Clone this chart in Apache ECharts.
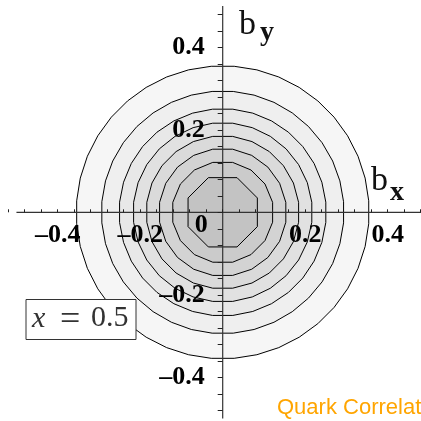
<!DOCTYPE html>
<html>
<head>
<meta charset="utf-8">
<script src="https://cdn.jsdelivr.net/npm/echarts@6/dist/echarts.min.js"></script>
<style>
  html, body { margin: 0; padding: 0; background: #ffffff; }
  #chart { width: 421px; height: 421px; }
</style>
</head>
<body>
<div id="chart"></div>
<script>
// Contour levels of the impact-parameter density at x = 0.5,
// listed from the outermost level inwards (radius where each contour crosses an axis).
const contourRadii = [0.354, 0.293, 0.250, 0.216, 0.184, 0.153, 0.121, 0.084];
// Grey fill of the region enclosed by each contour.
const bandGray = ['#f6f6f6', '#efefef', '#e8e8e8', '#e1e1e1', '#dadada', '#d3d3d3', '#cbcbcb', '#c3c3c3'];
// Number of straight segments of each contour polygon (coarse sampling grid).
const contourSides = [40, 36, 32, 28, 24, 20, 16, 8];
// Labelled tick values on both axes.
const tickLabels = [-0.4, -0.2, 0, 0.2, 0.4];
// Extent of the drawn axis lines.
const axisExtent = [-0.5, 0.5];

const chart = echarts.init(document.getElementById('chart'), null, { renderer: 'canvas' });

const SERIF = "'Liberation Serif', 'Times New Roman', serif";
const serifBold = { fontFamily: SERIF, fontWeight: 'bold', fontSize: 26, color: '#000' };

// plot area: 1 data unit = 412.5 px, origin at (222.7, 212.3)
const GRID = { left: 8.2, top: -2.2, width: 429, height: 429 };
const AXIS_SHIFT = -214.5; // moves the axes from the grid edges onto the origin

function fmt(v) {
  return (v < 0 ? '\u2013' : '') + Math.abs(v).toFixed(1);
}
function isLabelled(v) {
  const m = Math.round(v * 100);
  return tickLabels.some(t => Math.round(t * 100) === m);
}
function txt(text, left, top, size, extra) {
  return {
    type: 'text', left: left, top: top, z: 21,
    style: Object.assign({ text: text, fontFamily: SERIF, fontSize: size, fill: '#111' }, extra || {})
  };
}

const option = {
  backgroundColor: '#ffffff',
  animation: false,
  grid: Object.assign({ containLabel: false, outerBoundsMode: 'none' }, GRID),
  xAxis: {
    type: 'value', min: -0.52, max: 0.52, interval: 0.04, z: 10,
    position: 'bottom', offset: AXIS_SHIFT,
    splitLine: { show: false },
    axisLine: { show: false, onZero: false },
    axisTick: { show: true, inside: true, length: 3, lineStyle: { color: '#222', width: 1 } },
    axisLabel: {
      show: true, margin: 10, ...serifBold,
      formatter: v => (Math.round(v * 100) !== 0 && isLabelled(v)) ? fmt(v) : ''
    }
  },
  yAxis: {
    type: 'value', min: -0.52, max: 0.52, interval: 0.04, z: 10,
    position: 'left', offset: AXIS_SHIFT,
    splitLine: { show: false },
    axisLine: { show: false, onZero: false },
    axisTick: { show: true, inside: false, length: 5, lineStyle: { color: '#222', width: 1 } },
    axisLabel: {
      show: true, margin: 15, ...serifBold,
      formatter: v => {
        if (Math.round(v * 100) === 0) return '{o|0}';
        return isLabelled(v) ? '{n|' + fmt(v) + '}' : '';
      },
      rich: {
        n: { ...serifBold, padding: [0, 3, 0, 0] },
        o: { ...serifBold, padding: [26, 0, 0, 0] }
      }
    }
  },
  series: [
    {
      type: 'custom',
      name: 'contours',
      coordinateSystem: 'cartesian2d',
      z: 2,
      data: contourRadii.map((r, i) => [r, contourSides[i]]),
      renderItem: (params, api) => {
        const r = api.value(0);
        const n = api.value(1);
        const R = r / Math.cos(Math.PI / n);
        const pts = [];
        for (let k = 0; k < n; k++) {
          const a = (k + 0.5) * 2 * Math.PI / n;
          pts.push(api.coord([R * Math.cos(a), R * Math.sin(a)]));
        }
        return {
          type: 'polygon',
          shape: { points: pts },
          style: { fill: bandGray[params.dataIndex], stroke: '#000', lineWidth: 1 }
        };
      }
    },
    {
      type: 'custom',
      name: 'axes',
      coordinateSystem: 'cartesian2d',
      z: 5,
      silent: true,
      data: [axisExtent],
      renderItem: (params, api) => {
        const lo = api.value(0), hi = api.value(1);
        const x0 = api.coord([lo, 0]), x1 = api.coord([hi, 0]);
        const y0 = api.coord([0, lo]), y1 = api.coord([0, hi]);
        const ls = { stroke: '#333', lineWidth: 1.2 };
        return {
          type: 'group',
          children: [
            { type: 'line', shape: { x1: x0[0], y1: x0[1], x2: x1[0], y2: x1[1] }, style: ls },
            { type: 'line', shape: { x1: y0[0], y1: y0[1], x2: y1[0], y2: y1[1] }, style: ls }
          ]
        };
      }
    }
  ],
  graphic: [
    // axis names
    txt('b', 239, 8, 34),
    txt('y', 260, 19, 28, { fontWeight: 'bold' }),
    txt('b', 371, 164, 34),
    txt('x', 390, 179, 28, { fontWeight: 'bold' }),
    // parameter box
    { type: 'rect', z: 20, shape: { x: 26, y: 299.5, width: 110, height: 40 },
      style: { fill: '#fff', stroke: '#333', lineWidth: 1 } },
    txt('x', 32, 304, 30, { fontStyle: 'italic', fill: '#333' }),
    txt('=', 60, 303, 36, { fill: '#333' }),
    txt('0.5', 91, 303, 30, { fill: '#333' }),
    // footer note
    { type: 'text', left: 277, top: 397, z: 20,
      style: { text: 'Quark Correlations', fontFamily: "'Liberation Sans', Arial, sans-serif", fontSize: 22, fill: '#ffa500' } }
  ]
};

chart.setOption(option);
</script>
</body>
</html>
